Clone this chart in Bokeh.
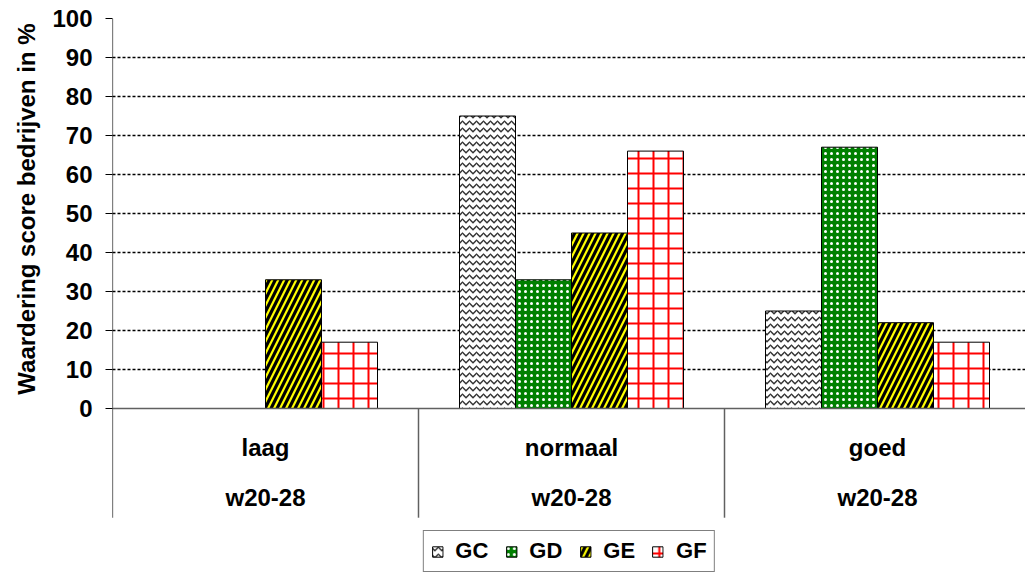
from bokeh.plotting import figure
from bokeh.models import Range1d, FixedTicker, Legend, LegendItem, Title
from bokeh.core.properties import value
from bokeh.embed import file_html
from bokeh.resources import INLINE

categories = ["laag", "normaal", "goed"]
period_labels = ["w20-28", "w20-28", "w20-28"]
series = ["GC", "GD", "GE", "GF"]
gc = [0, 75, 25]
gd = [0, 33, 67]
ge = [33, 45, 22]
gf = [17, 66, 17]
y_ticks = list(range(0, 101, 10))
y_title = "Waardering score bedrijven in %"

FONT = "Liberation Sans"
W, H = 1025, 575
LEFT, TOP = 112, 18
GROUP_PX = 306
PX_PER_UNIT = 3.9
FRAME_W = W - LEFT
FRAME_H = H - TOP
Y_MIN = 100 - FRAME_H / PX_PER_UNIT
AXIS_BOTTOM = -28

p = figure(width=W, height=H, x_range=Range1d(0, FRAME_W / GROUP_PX), y_range=Range1d(Y_MIN, 100),
           output_backend="svg", toolbar_location=None,
           min_border_left=LEFT, min_border_right=0, min_border_top=TOP, min_border_bottom=0)
p.outline_line_color = None
p.background_fill_color = "white"

p.xaxis.visible = False
p.xgrid.visible = False
p.ygrid.ticker = FixedTicker(ticks=y_ticks[1:])
p.ygrid.grid_line_color = "black"
p.ygrid.grid_line_dash = "3 2"
p.ygrid.grid_line_width = 1.5

ax = p.yaxis[0]
ax.ticker = FixedTicker(ticks=y_ticks)
ax.axis_line_color = None
ax.major_tick_line_color = "black"
ax.major_tick_out = 7
ax.major_tick_in = 0
ax.minor_tick_line_color = None
ax.major_label_text_font = FONT
ax.major_label_text_font_style = "bold"
ax.major_label_text_font_size = "24px"
ax.major_label_text_color = "black"
ax.major_label_standoff = 13

p.add_layout(Title(text=y_title, align="right", offset=5, vertical_align="middle",
                   text_font=FONT, text_font_style="bold", text_font_size="24px",
                   text_color="black", standoff=18), "left")

n = len(categories)
bw = 56 / GROUP_PX
styles = [
    dict(fill_color="white", hatch_pattern="horizontal_wave", hatch_color="#333333", hatch_scale=7, hatch_weight=1.5),
    dict(fill_color="#008000", hatch_pattern="dot", hatch_color="white", hatch_scale=6, hatch_weight=0.5),
    dict(fill_color="black", hatch_pattern="right_diagonal_line", hatch_color="#FFFF00", hatch_scale=12, hatch_weight=2.2),
    dict(fill_color="white", hatch_pattern="cross", hatch_color="red", hatch_scale=15, hatch_weight=2),
]
items = []
for k, (name, vals) in enumerate(zip(series, [gc, gd, ge, gf])):
    xs = [i + 0.5 + (k - 1.5) * bw for i in range(n)]
    r = p.vbar(x=xs, top=vals, bottom=0, width=bw, line_color="black", line_width=1, **styles[k])
    items.append(LegendItem(label=name, renderers=[r]))

# y axis line (reaching down through the category label area), baseline and separators
p.segment(x0=[0], y0=[AXIS_BOTTOM], x1=[0], y1=[100], line_color="black", line_width=1.2)
p.segment(x0=[0], y0=[0], x1=[n], y1=[0], line_color="#606060", line_width=1.5)
p.segment(x0=list(range(1, n + 1)), y0=0, x1=list(range(1, n + 1)), y1=AXIS_BOTTOM,
          line_color="#606060", line_width=1.5)

centers = [i + 0.5 for i in range(n)]
p.text(x=centers, y=[-10] * n, text=categories, text_font=value(FONT), text_font_style="bold",
       text_font_size="24px", text_align="center", text_baseline="middle", text_color="black")
p.text(x=centers, y=[-22.8] * n, text=period_labels, text_font=value(FONT), text_font_style="bold",
       text_font_size="24px", text_align="center", text_baseline="middle", text_color="black")

legend = Legend(items=items, orientation="horizontal", location="bottom_center",
                border_line_color="black", border_line_width=1,
                label_text_font=FONT, label_text_font_style="bold", label_text_font_size="22px",
                label_text_color="black",
                glyph_width=13, glyph_height=13, spacing=16, padding=7, margin=3,
                label_standoff=12, background_fill_alpha=1)
p.add_layout(legend, "center")

open("out.html", "w").write(file_html(p, INLINE))
